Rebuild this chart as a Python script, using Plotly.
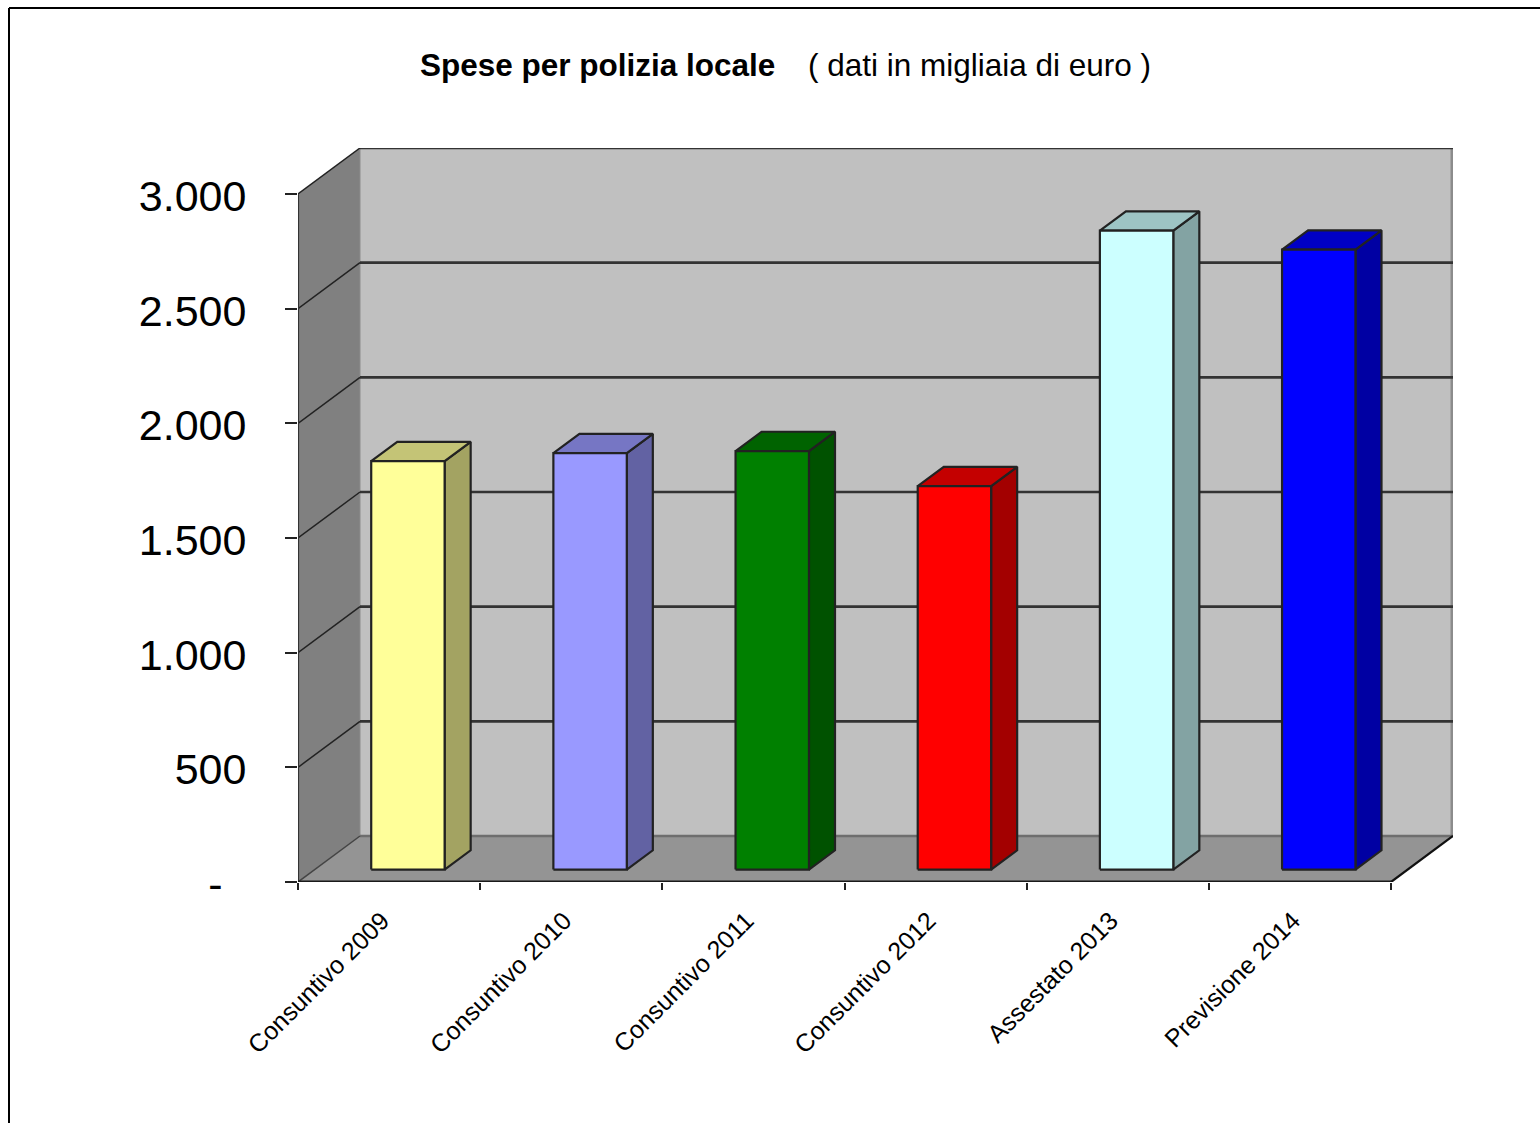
import plotly.graph_objects as go

# Spending per year, in thousands of euro
categories = ["Consuntivo 2009", "Consuntivo 2010", "Consuntivo 2011",
              "Consuntivo 2012", "Assestato 2013", "Previsione 2014"]
values = [1781, 1816, 1825, 1672, 2786, 2703]
bar_colors = [(255, 255, 153), (153, 153, 255), (0, 128, 0),
              (255, 0, 0), (204, 255, 255), (0, 0, 255)]
y_ticks = [0, 500, 1000, 1500, 2000, 2500, 3000]
y_labels = ["-\u00a0\u00a0", "500", "1.000", "1.500", "2.000", "2.500", "3.000"]

WIDTH, HEIGHT = 1540, 1123
LEFT, RIGHT, TOP, BOTTOM = 298, 1453, 148, 882
Y_MAX_FRONT = 3000
PX_PER_CAT = (1391 - 298) / len(categories)
PX_PER_UNIT = (882 - 194) / Y_MAX_FRONT

# Oblique projection: how far the back plane is shifted, in axis units
DEPTH_X = 62 / PX_PER_CAT
DEPTH_Y = 46 / PX_PER_UNIT

# Bar placement inside each category slot
BAR_OFFSET = 0.31
BAR_WIDTH = 0.403
BAR_DEPTH_START = 0.27
BAR_DEPTH = 0.42

n = len(categories)
fig = go.Figure()


def poly(xs, ys, fill, line="rgba(0,0,0,0)", width=0):
    fig.add_trace(go.Scatter(
        x=xs + xs[:1], y=ys + ys[:1], mode="lines", fill="toself", fillcolor=fill,
        line=dict(color=line, width=width), hoverinfo="skip", showlegend=False,
        cliponaxis=False))


def segment(xs, ys, color, width):
    fig.add_trace(go.Scatter(
        x=xs, y=ys, mode="lines", line=dict(color=color, width=width),
        hoverinfo="skip", showlegend=False, cliponaxis=False))


def shade(rgb, k):
    return "rgb({},{},{})".format(*[round(c * k) for c in rgb])


# Back wall, side wall and floor
poly([DEPTH_X, n + DEPTH_X, n + DEPTH_X, DEPTH_X],
     [DEPTH_Y, DEPTH_Y, 3000 + DEPTH_Y, 3000 + DEPTH_Y], "#c0c0c0")
poly([0, DEPTH_X, DEPTH_X, 0], [0, DEPTH_Y, 3000 + DEPTH_Y, 3000], "#808080")
poly([0, n, n + DEPTH_X, DEPTH_X], [0, 0, DEPTH_Y, DEPTH_Y], "#949494")

# Outer edges of the box
segment([n + DEPTH_X, n + DEPTH_X], [DEPTH_Y, 3000 + DEPTH_Y], "#8c8c8c", 5)
segment([DEPTH_X, DEPTH_X], [DEPTH_Y, 3000 + DEPTH_Y], "#8c8c8c", 1)

# Gridlines across the side wall and the back wall
for v in y_ticks[1:]:
    segment([DEPTH_X, n + DEPTH_X], [v + DEPTH_Y, v + DEPTH_Y], "#333333", 2.6)
    segment([0, DEPTH_X], [v, v + DEPTH_Y], "#222222", 1.5)

segment([DEPTH_X, n + DEPTH_X], [DEPTH_Y, DEPTH_Y], "#6e6e6e", 2.6)
segment([0, DEPTH_X], [0, DEPTH_Y], "#444444", 1.5)
segment([n, n + DEPTH_X], [0, DEPTH_Y], "#111111", 2.2)
segment([0, 0], [0, 3000], "#333333", 2.2)
segment([0, n], [0, 0], "#1a1a1a", 3)

# Each bar: front, side and top faces projected along the depth direction
for i, (v, rgb) in enumerate(zip(values, bar_colors)):
    x0 = i + BAR_OFFSET + BAR_DEPTH_START * DEPTH_X
    x1 = x0 + BAR_WIDTH
    y0 = BAR_DEPTH_START * DEPTH_Y
    y1 = y0 + v
    dx = BAR_DEPTH * DEPTH_X
    dy = BAR_DEPTH * DEPTH_Y
    edge = "#222222"
    poly([x1, x1 + dx, x1 + dx, x1], [y0, y0 + dy, y1 + dy, y1], shade(rgb, 0.64), edge, 2.2)
    poly([x0, x1, x1 + dx, x0 + dx], [y1, y1, y1 + dy, y1 + dy], shade(rgb, 0.77), edge, 2.2)
    poly([x0, x1, x1, x0], [y0, y0, y1, y1], shade(rgb, 1.0), edge, 2.2)

axis_font = "Liberation Sans, Arial, sans-serif"
fig.update_layout(
    width=WIDTH, height=HEIGHT,
    autosize=False,
    margin=dict(l=LEFT, r=WIDTH - RIGHT, t=TOP, b=HEIGHT - BOTTOM, pad=0),
    paper_bgcolor="white", plot_bgcolor="white",
    showlegend=False,
    title=dict(
        text="<b>Spese per polizia locale</b>\u00a0\u00a0\u00a0\u2009( dati in migliaia di euro )",
        font=dict(family=axis_font, size=31.5, color="black"),
        x=(421 + 1150) / 2 / WIDTH, xanchor="center", xref="container",
        y=1 - 65 / HEIGHT, yanchor="middle", yref="container"),
    xaxis=dict(
        range=[0, n + DEPTH_X], showgrid=False, zeroline=False, showline=False,
        tickmode="array", tickvals=[i + 0.5 for i in range(n)], ticktext=categories,
        tickangle=-45, ticks="", tickfont=dict(family=axis_font, size=25, color="black"),
        ticklabelstandoff=18, ticklabelshift=-7,
        minor=dict(tickmode="array", tickvals=list(range(n + 1)), ticks="outside",
                   ticklen=7, tickwidth=2, tickcolor="#222222", showgrid=False),
    ),
    yaxis=dict(
        range=[0, (BOTTOM - TOP) / PX_PER_UNIT], showgrid=False, zeroline=False, showline=False,
        tickmode="array", tickvals=y_ticks, ticktext=y_labels,
        ticks="outside", ticklen=12, tickwidth=2, tickcolor="#222222",
        tickfont=dict(family=axis_font, size=43, color="black"),
        ticklabelstandoff=30, ticklabelshift=2,
    ),
    # Frame around the chart: top and left edges
    shapes=[
        dict(type="line", xref="paper", yref="paper",
             x0=(9 - LEFT) / (RIGHT - LEFT), x1=(WIDTH - LEFT) / (RIGHT - LEFT),
             y0=(BOTTOM - 8) / (BOTTOM - TOP), y1=(BOTTOM - 8) / (BOTTOM - TOP),
             line=dict(color="black", width=2)),
        dict(type="line", xref="paper", yref="paper",
             x0=(9 - LEFT) / (RIGHT - LEFT), x1=(9 - LEFT) / (RIGHT - LEFT),
             y0=(BOTTOM - 8) / (BOTTOM - TOP), y1=(BOTTOM - HEIGHT) / (BOTTOM - TOP),
             line=dict(color="black", width=2)),
    ],
)

fig.write_html("out.html")
